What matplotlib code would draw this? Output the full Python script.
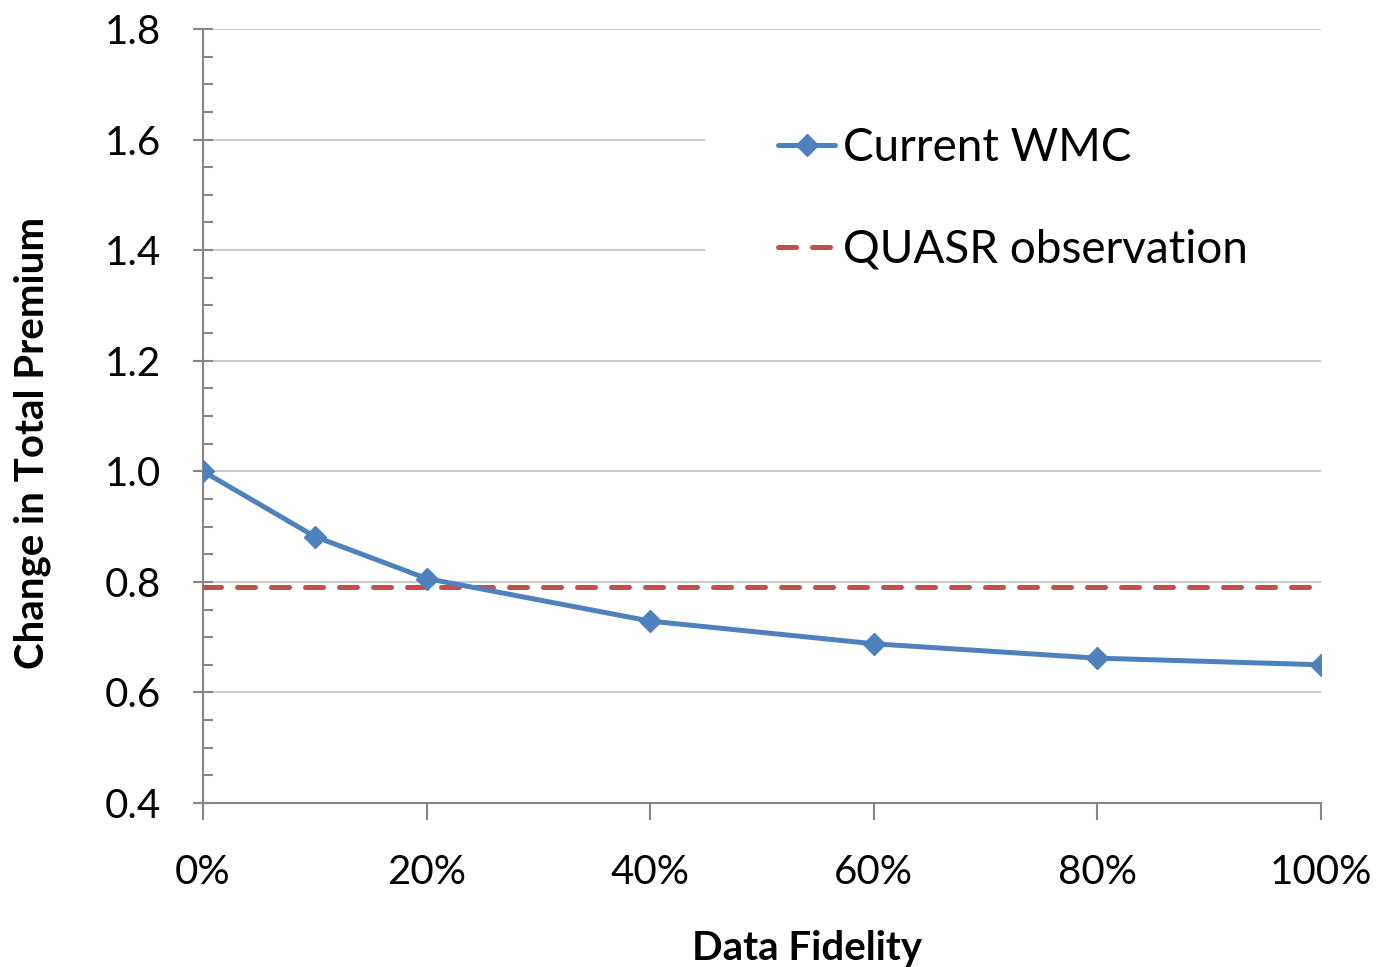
import matplotlib
matplotlib.use("Agg")
import matplotlib.pyplot as plt
from matplotlib.patches import Rectangle
from matplotlib.ticker import MultipleLocator, FuncFormatter

fidelity = [0, 10, 20, 40, 60, 80, 100]
wmc = [1.0, 0.882, 0.806, 0.729, 0.688, 0.662, 0.650]
quasr = 0.791
xticks = [0, 20, 40, 60, 80, 100]
yticks = [0.4, 0.6, 0.8, 1.0, 1.2, 1.4, 1.6, 1.8]

plt.rcParams['font.family'] = ['Lato', 'DejaVu Sans']

fig = plt.figure(figsize=(13.86, 9.67), dpi=100)
ax = fig.add_axes([203/1386, 1-803/967, (1321-203)/1386, (803-29)/967])

blue = '#4F81BD'
red = '#C0504D'
ax.plot(fidelity, wmc, color=blue, lw=3.6, marker='D', ms=11, zorder=4, label='Current WMC',
        solid_capstyle='round')
ax.plot([0, 100], [quasr, quasr], color=red, lw=3.6, dashes=(3.6, 3.2), zorder=3,
        label='QUASR observation', dash_capstyle='round')

ax.set_xlim(0, 100)
ax.set_ylim(0.4, 1.8)
ax.set_xticks(xticks)
ax.set_yticks(yticks)
ax.xaxis.set_major_formatter(FuncFormatter(lambda v, p: f"{v:.0f}%"))
ax.yaxis.set_major_formatter(FuncFormatter(lambda v, p: f"{v:.1f}"))
ax.yaxis.set_minor_locator(MultipleLocator(0.05))

ax.set_axisbelow(True)
ax.grid(axis='y', color='#BFBFBF', lw=1.2)
for s in ['top', 'right']:
    ax.spines[s].set_visible(False)
for s in ['left', 'bottom']:
    ax.spines[s].set_color('#868686')
    ax.spines[s].set_linewidth(1.5)

ax.tick_params(axis='y', which='major', direction='inout', length=14, width=1.5, color='#868686',
               labelsize=29, pad=23)
ax.tick_params(axis='y', which='minor', direction='in', length=7, width=1.5, color='#868686')
ax.tick_params(axis='x', which='major', direction='out', length=12, width=1.5, color='#868686',
               labelsize=29, pad=25)

fig.text(807/1386, 1-960/967, 'Data Fidelity', fontsize=29, fontweight='bold',
         ha='center', va='baseline')
fig.text(32/1386, 1-443/967, 'Change in Total Premium', fontsize=29, fontweight='bold',
         ha='center', va='center', rotation=90)

ax.add_patch(Rectangle((0.449, 1.3), 0.56, 0.4, transform=ax.get_yaxis_transform(),
                       facecolor='white', edgecolor='none', zorder=1, clip_on=False))

leg = ax.legend(loc='upper left', bbox_to_anchor=(778/1386, 1-127/967), bbox_transform=fig.transFigure,
                frameon=False, fontsize=33, handlelength=1.25, handletextpad=0.17, labelspacing=1.3,
                borderaxespad=0, borderpad=0)

fig.savefig('out.png', dpi=100)
